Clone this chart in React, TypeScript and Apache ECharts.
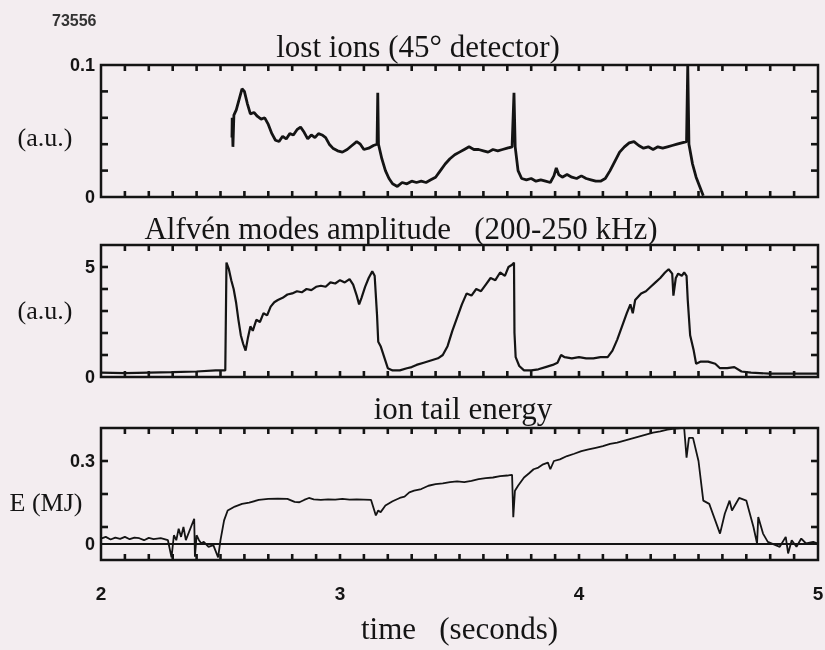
import React, { useEffect, useRef } from "react";
import * as echarts from "echarts";

// ---- data (time in seconds) ----
const shotNumber = "73556";
const panelTitles = ["lost ions (45° detector)", "Alfvén modes amplitude   (200-250 kHz)", "ion tail energy"];
const yNames = ["(a.u.)", "(a.u.)", "E (MJ)"];
const xName = "time   (seconds)";
const xLabelValues = [2, 3, 4, 5];
const xTickValues = [
  2.1, 2.2, 2.3, 2.4, 2.5, 2.6, 2.7, 2.8, 2.9, 3.0,
  3.1, 3.2, 3.3, 3.4, 3.5, 3.6, 3.7, 3.8, 3.9, 4.0,
  4.1, 4.2, 4.3, 4.4, 4.5, 4.6, 4.7, 4.8, 4.9,
];
const yTickValues: number[][] = [
  [0.02, 0.04, 0.06, 0.08],
  [1, 2, 3, 4, 5],
  [0.1, 0.2, 0.3],
];

const lostIons: [number, number][] = [
  [2.548, 0.045], [2.549, 0.060], [2.552, 0.038], [2.556, 0.062], [2.566, 0.066], [2.578, 0.074],
  [2.59, 0.082], [2.60, 0.080], [2.612, 0.071], [2.625, 0.063], [2.64, 0.064], [2.655, 0.061],
  [2.67, 0.059], [2.685, 0.060], [2.70, 0.055], [2.715, 0.048], [2.73, 0.043], [2.745, 0.042],
  [2.76, 0.046], [2.775, 0.044], [2.79, 0.048], [2.805, 0.047], [2.82, 0.051], [2.835, 0.053],
  [2.85, 0.049], [2.865, 0.044], [2.88, 0.047], [2.895, 0.045], [2.91, 0.048], [2.925, 0.047],
  [2.94, 0.045], [2.955, 0.040], [2.97, 0.037], [2.99, 0.035], [3.01, 0.034], [3.03, 0.036],
  [3.05, 0.039], [3.07, 0.042], [3.085, 0.040], [3.10, 0.036], [3.12, 0.037], [3.14, 0.039],
  [3.155, 0.040], [3.158, 0.079], [3.161, 0.040], [3.175, 0.029], [3.19, 0.020], [3.205, 0.014],
  [3.22, 0.010], [3.24, 0.008], [3.26, 0.011], [3.28, 0.010], [3.30, 0.012], [3.32, 0.011],
  [3.34, 0.012], [3.36, 0.011], [3.38, 0.013], [3.40, 0.015], [3.42, 0.020], [3.44, 0.025],
  [3.46, 0.029], [3.48, 0.032], [3.50, 0.034], [3.52, 0.036], [3.54, 0.038], [3.56, 0.036],
  [3.58, 0.036], [3.60, 0.035], [3.62, 0.034], [3.64, 0.036], [3.66, 0.035], [3.68, 0.036],
  [3.70, 0.037], [3.72, 0.038], [3.728, 0.079], [3.733, 0.038], [3.745, 0.020], [3.76, 0.014],
  [3.78, 0.013], [3.80, 0.014], [3.82, 0.012], [3.84, 0.013], [3.86, 0.012], [3.88, 0.011],
  [3.895, 0.016], [3.905, 0.022], [3.915, 0.017], [3.93, 0.015], [3.95, 0.017], [3.97, 0.015],
  [3.99, 0.014], [4.01, 0.016], [4.03, 0.014], [4.05, 0.013], [4.07, 0.012], [4.09, 0.012],
  [4.11, 0.014], [4.13, 0.020], [4.15, 0.027], [4.17, 0.034], [4.19, 0.038], [4.21, 0.041],
  [4.23, 0.042], [4.25, 0.039], [4.27, 0.037], [4.29, 0.038], [4.31, 0.036], [4.33, 0.038],
  [4.35, 0.037], [4.37, 0.038], [4.39, 0.039], [4.41, 0.040], [4.43, 0.041], [4.45, 0.042],
  [4.455, 0.100], [4.46, 0.040], [4.475, 0.025], [4.49, 0.015], [4.505, 0.008], [4.52, 0.001],
];

const alfvenAmp: [number, number][] = [
  [2.0, 0.2], [2.1, 0.18], [2.2, 0.2], [2.3, 0.22], [2.4, 0.25], [2.48, 0.3], [2.52, 0.3],
  [2.525, 5.2], [2.535, 4.9], [2.545, 4.4], [2.555, 4.0], [2.565, 3.4], [2.575, 2.6], [2.585, 1.9],
  [2.595, 1.5], [2.605, 1.2], [2.615, 1.8], [2.625, 2.3], [2.635, 2.1], [2.65, 2.6], [2.665, 2.5],
  [2.68, 2.9], [2.695, 2.8], [2.71, 3.2], [2.725, 3.4], [2.74, 3.5], [2.76, 3.6], [2.78, 3.75],
  [2.8, 3.8], [2.82, 3.9], [2.84, 3.85], [2.86, 4.0], [2.88, 3.95], [2.9, 4.1], [2.92, 4.15],
  [2.94, 4.1], [2.96, 4.3], [2.98, 4.25], [3.0, 4.4], [3.02, 4.3], [3.04, 4.45], [3.055, 4.2],
  [3.07, 3.7], [3.08, 3.3], [3.09, 3.6], [3.105, 4.1], [3.12, 4.5], [3.135, 4.8], [3.145, 4.6],
  [3.155, 2.8], [3.16, 1.6], [3.17, 1.4], [3.185, 0.9], [3.2, 0.4], [3.22, 0.3], [3.25, 0.3],
  [3.28, 0.4], [3.3, 0.45], [3.32, 0.55], [3.35, 0.65], [3.38, 0.75], [3.41, 0.85], [3.43, 1.0],
  [3.45, 1.4], [3.47, 2.1], [3.49, 2.7], [3.51, 3.3], [3.53, 3.8], [3.55, 3.7], [3.57, 4.0],
  [3.59, 3.9], [3.61, 4.2], [3.63, 4.5], [3.65, 4.4], [3.67, 4.75], [3.69, 4.6], [3.705, 5.0],
  [3.72, 5.1], [3.728, 5.2], [3.73, 2.0], [3.735, 0.9], [3.75, 0.5], [3.77, 0.3], [3.8, 0.3],
  [3.83, 0.35], [3.86, 0.45], [3.89, 0.55], [3.91, 0.65], [3.925, 1.0], [3.94, 0.9], [3.97, 0.85],
  [4.0, 0.9], [4.03, 0.85], [4.06, 0.85], [4.09, 0.9], [4.12, 0.9], [4.14, 1.2], [4.16, 1.7],
  [4.18, 2.3], [4.2, 2.9], [4.215, 3.3], [4.225, 2.9], [4.235, 3.5], [4.26, 3.8], [4.28, 3.9],
  [4.3, 4.1], [4.32, 4.3], [4.34, 4.5], [4.36, 4.75], [4.375, 4.9], [4.39, 4.7], [4.395, 3.7],
  [4.405, 4.5], [4.415, 4.7], [4.43, 4.6], [4.44, 4.75], [4.45, 4.6], [4.455, 3.5], [4.465, 1.9],
  [4.48, 1.2], [4.49, 0.6], [4.51, 0.7], [4.54, 0.7], [4.57, 0.6], [4.59, 0.4], [4.62, 0.4],
  [4.65, 0.45], [4.68, 0.25], [4.72, 0.2], [4.8, 0.15], [4.9, 0.15], [5.0, 0.15],
];

const ionTailEnergy: [number, number][] = [
  [2.0, 0.065], [2.02, 0.07], [2.04, 0.062], [2.06, 0.068], [2.08, 0.064], [2.1, 0.07],
  [2.12, 0.063], [2.14, 0.068], [2.16, 0.066], [2.18, 0.06], [2.2, 0.067], [2.22, 0.063],
  [2.25, 0.066], [2.28, 0.06], [2.295, 0.008], [2.305, 0.075], [2.315, 0.06], [2.325, 0.095],
  [2.335, 0.07], [2.345, 0.1], [2.355, 0.06], [2.39, 0.125], [2.393, 0.01], [2.4, 0.075],
  [2.41, 0.06], [2.42, 0.05], [2.43, 0.055], [2.45, 0.04], [2.47, 0.045], [2.49, 0.008],
  [2.5, 0.06], [2.515, 0.12], [2.53, 0.15], [2.56, 0.162], [2.59, 0.17], [2.62, 0.174],
  [2.66, 0.182], [2.7, 0.185], [2.74, 0.186], [2.78, 0.185], [2.81, 0.176], [2.83, 0.175],
  [2.85, 0.182], [2.87, 0.188], [2.89, 0.184], [2.92, 0.182], [2.95, 0.184], [2.98, 0.183],
  [3.01, 0.185], [3.04, 0.183], [3.07, 0.184], [3.1, 0.183], [3.13, 0.182], [3.15, 0.135],
  [3.16, 0.15], [3.17, 0.145], [3.19, 0.165], [3.22, 0.178], [3.25, 0.188], [3.27, 0.192],
  [3.29, 0.205], [3.31, 0.21], [3.34, 0.215], [3.37, 0.225], [3.4, 0.23], [3.43, 0.232],
  [3.46, 0.236], [3.49, 0.238], [3.52, 0.236], [3.55, 0.24], [3.58, 0.245], [3.61, 0.248],
  [3.64, 0.25], [3.67, 0.254], [3.7, 0.256], [3.72, 0.258], [3.725, 0.13], [3.732, 0.21],
  [3.745, 0.225], [3.77, 0.25], [3.79, 0.262], [3.81, 0.275], [3.83, 0.28], [3.85, 0.29],
  [3.87, 0.295], [3.88, 0.275], [3.895, 0.3], [3.92, 0.305], [3.95, 0.315], [3.98, 0.322],
  [4.01, 0.33], [4.04, 0.335], [4.07, 0.34], [4.1, 0.345], [4.13, 0.352], [4.16, 0.356],
  [4.19, 0.362], [4.22, 0.368], [4.25, 0.374], [4.28, 0.38], [4.31, 0.386], [4.34, 0.39],
  [4.37, 0.395], [4.4, 0.398], [4.43, 0.4], [4.44, 0.4], [4.45, 0.31], [4.46, 0.37],
  [4.477, 0.37], [4.5, 0.3], [4.52, 0.18], [4.545, 0.17], [4.59, 0.08], [4.61, 0.14],
  [4.63, 0.18], [4.64, 0.15], [4.67, 0.188], [4.7, 0.18], [4.73, 0.1], [4.745, 0.05],
  [4.75, 0.13], [4.77, 0.08], [4.79, 0.055], [4.84, 0.04], [4.865, 0.07], [4.875, 0.02],
  [4.89, 0.06], [4.91, 0.04], [4.93, 0.065], [4.95, 0.05], [4.98, 0.055], [5.0, 0.05],
];

const ionBaseline = 0.048;
const xRange = [2, 5];
const yRanges: [number, number, number][] = [
  [0, 0.1, 0.02],
  [0, 6, 1],
  [0, 0.4, 0.1],
];
const yLabelValues: number[][] = [[0, 0.1], [0, 5], [0.048, 0.3]];
const yLabelTexts: string[][] = [["0", "0.1"], ["0", "5"], ["0", "0.3"]];

const INK = "#141414";
const BG = "#f3edf0";
const SERIF = "Liberation Serif, Times New Roman, serif";
const SANS = "Liberation Sans, Arial, sans-serif";

export default function App() {
  const ref = useRef<HTMLDivElement>(null);

  useEffect(() => {
    if (!ref.current) return;
    document.body.style.background = BG;
    const chart = echarts.init(ref.current, null, { renderer: "svg" });

    const gridTops = [65, 245, 428];
    const grids = gridTops.map((t) => ({
      left: 101,
      top: t,
      width: 717,
      height: 132,
      show: true,
      borderColor: INK,
      borderWidth: 2.5,
      backgroundColor: "transparent",
      outerBoundsMode: "none",
    }));

    const mkNoLine = () => ({ show: false, onZero: false });

    const xAxis: any[] = [];
    const yAxis: any[] = [];
    for (let i = 0; i < 3; i++) {
      xAxis.push({
        type: "value", gridIndex: i, min: xRange[0], max: xRange[1], interval: 0.1, position: "bottom",
        axisLine: mkNoLine(), axisTick: { show: false }, splitLine: { show: false },
        axisLabel: {
          show: i === 2, customValues: xLabelValues, margin: 24, color: INK,
          fontFamily: SANS, fontWeight: "bold", fontSize: 19,
        },
        name: i === 2 ? xName : "", nameLocation: "middle", nameGap: 53,
        nameTextStyle: { color: INK, fontFamily: SERIF, fontSize: 31 },
      });
      const [mn, mx, iv] = yRanges[i];
      const vals = yLabelValues[i];
      const txts = yLabelTexts[i];
      yAxis.push({
        type: "value", gridIndex: i, min: mn, max: mx, interval: iv, position: "left",
        axisLine: mkNoLine(), axisTick: { show: false }, splitLine: { show: false },
        axisLabel: {
          customValues: vals,
          formatter: (v: number) => {
            const k = vals.findIndex((x) => Math.abs(x - v) < 1e-9);
            return k >= 0 ? txts[k] : "";
          },
          margin: 6, color: INK,
          fontFamily: SANS, fontWeight: "bold", fontSize: 18,
        },
      });
    }

    const txt = (text: string, x: number, y: number, font: string, align = "center", fill = INK) => ({
      type: "text", x, y, silent: true,
      style: { text, font, fill, align, verticalAlign: "middle", textAlign: align, textVerticalAlign: "middle" },
    });
    const titleFont = `31px ${SERIF}`;
    const yNameFont = `26px ${SERIF}`;

    const graphic = [
      txt(shotNumber, 52, 20, `bold 16px ${SANS}`, "left", "#333"),
      txt(panelTitles[0], 418, 46, titleFont),
      txt(panelTitles[1], 401, 228, titleFont),
      txt(panelTitles[2], 463, 408, titleFont),
      txt(yNames[0], 45, 137, yNameFont),
      txt(yNames[1], 45, 310, yNameFont),
      txt(yNames[2], 46, 502, yNameFont),
    ];

    const TW = 2.6; // tick thickness
    const X_TICK = 6;
    const Y_TICK = 7;
    const tickFill = () => ({ fill: INK, stroke: "none" });

    // inward ticks on all four sides, placed through the axes' scales (drawn as thin filled rects)
    const tickSeries: any[] = [];
    for (let i = 0; i < 3; i++) {
      const [mn, mx] = yRanges[i];
      tickSeries.push({
        type: "custom", xAxisIndex: i, yAxisIndex: i, silent: true, z: 5, clip: false,
        data: xTickValues.map((v) => [v, mn]),
        renderItem: (_p: any, api: any) => {
          const x = api.value(0);
          const b = api.coord([x, mn]);
          const t = api.coord([x, mx]);
          return {
            type: "group",
            children: [
              { type: "rect", shape: { x: b[0] - TW / 2, y: b[1] - X_TICK, width: TW, height: X_TICK }, style: tickFill() },
              { type: "rect", shape: { x: t[0] - TW / 2, y: t[1], width: TW, height: X_TICK }, style: tickFill() },
            ],
          };
        },
      });
      tickSeries.push({
        type: "custom", xAxisIndex: i, yAxisIndex: i, silent: true, z: 5, clip: false,
        data: yTickValues[i].map((v) => [xRange[0], v]),
        renderItem: (_p: any, api: any) => {
          const y = api.value(1);
          const l = api.coord([xRange[0], y]);
          const r = api.coord([xRange[1], y]);
          return {
            type: "group",
            children: [
              { type: "rect", shape: { x: l[0], y: l[1] - TW / 2, width: Y_TICK, height: TW }, style: tickFill() },
              { type: "rect", shape: { x: r[0] - Y_TICK, y: r[1] - TW / 2, width: Y_TICK, height: TW }, style: tickFill() },
            ],
          };
        },
      });
    }

    const mkSeries = (data: [number, number][], i: number, width: number, extra: any = {}) => ({
      type: "line", xAxisIndex: i, yAxisIndex: i, data, showSymbol: false, symbol: "none",
      lineStyle: { color: INK, width }, silent: true, ...extra,
    });

    chart.setOption({
      animation: false,
      grid: grids,
      xAxis,
      yAxis,
      graphic,
      series: [
        ...tickSeries,
        mkSeries(lostIons, 0, 2.8),
        mkSeries(alfvenAmp, 1, 2.2),
        mkSeries(ionTailEnergy, 2, 1.8, {
          markLine: {
            silent: true, symbol: ["none", "none"], label: { show: false },
            lineStyle: { color: INK, width: 2.2, type: "solid" },
            data: [{ yAxis: ionBaseline }],
          },
        }),
      ],
    });

    return () => chart.dispose();
  }, []);

  return (
    <div
      ref={ref}
      style={{ position: "fixed", left: 0, top: 0, width: 825, height: 650 }}
    />
  );
}
